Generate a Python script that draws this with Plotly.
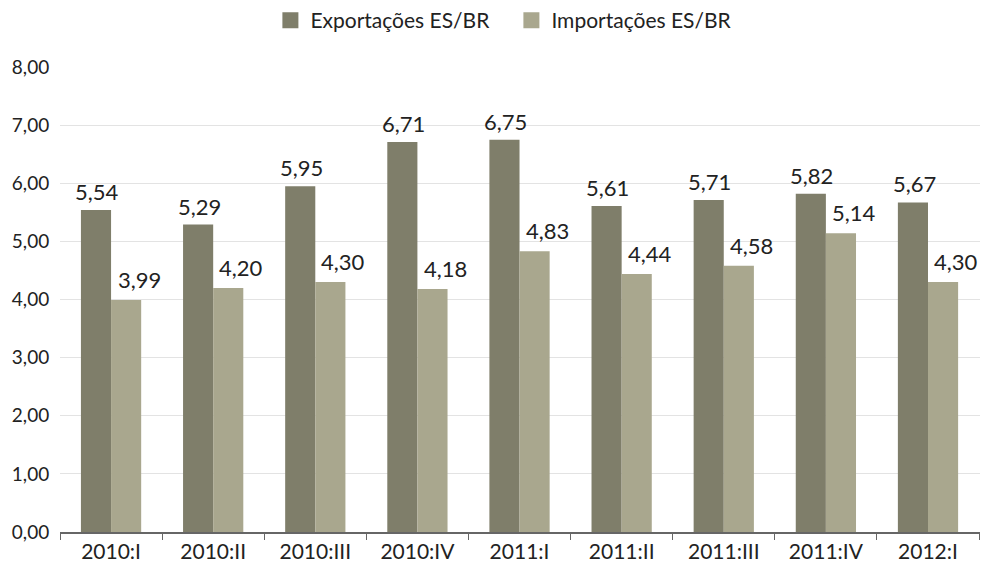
import plotly.graph_objects as go

categories = ["2010:I", "2010:II", "2010:III", "2010:IV", "2011:I", "2011:II", "2011:III", "2011:IV", "2012:I"]
exportacoes = [5.54, 5.29, 5.95, 6.71, 6.75, 5.61, 5.71, 5.82, 5.67]
importacoes = [3.99, 4.20, 4.30, 4.18, 4.83, 4.44, 4.58, 5.14, 4.30]
y_ticks = [0, 1, 2, 3, 4, 5, 6, 7, 8]
y_tick_labels = ["0,00", "1,00", "2,00", "3,00", "4,00", "5,00", "6,00", "7,00", "8,00"]
series_names = ["Exportações ES/BR", "Importações ES/BR"]
series_colors = ["#7f7e6a", "#a9a78e"]

def fmt(v):
    return f"{v:.2f}".replace(".", ",")

font_family = "Lato, Open Sans, sans-serif"
text_color = "#222222"

fig = go.Figure()
for name, vals, col in zip(series_names, [exportacoes, importacoes], series_colors):
    fig.add_trace(go.Bar(
        name=name, x=categories, y=vals, showlegend=False, legendgroup=name,
        marker=dict(color=col, line=dict(width=0)),
    ))
# legend entries with larger square swatches
for name, col in zip(series_names, series_colors):
    fig.add_trace(go.Scatter(
        name=name, x=[None], y=[None], mode="markers", legendgroup=name,
        marker=dict(symbol="square", size=16, color=col), showlegend=True,
    ))

annotations = []
for c, v in zip(categories, exportacoes):
    annotations.append(dict(x=c, y=v, xref="x", yref="y", text=fmt(v), showarrow=False,
                            xanchor="center", yanchor="bottom", xshift=-14, yshift=3,
                            font=dict(size=22, color=text_color)))
for c, v in zip(categories, importacoes):
    annotations.append(dict(x=c, y=v, xref="x", yref="y", text=fmt(v), showarrow=False,
                            xanchor="center", yanchor="bottom", xshift=28, yshift=5,
                            font=dict(size=22, color=text_color)))

fig.update_layout(
    width=993, height=563,
    margin=dict(l=60, r=13, t=67, b=31, autoexpand=False),
    paper_bgcolor="white", plot_bgcolor="white",
    barmode="group", bargap=0.41, bargroupgap=0,
    font=dict(family=font_family, size=19, color=text_color),
    legend=dict(orientation="h", x=0.515, xanchor="center", xref="container",
                y=1.0, yanchor="top", yref="container", entrywidth=196,
                font=dict(size=21), traceorder="normal", itemsizing="trace"),
    annotations=annotations,
)
fig.update_xaxes(
    showline=True, linecolor="#666666", linewidth=2,
    ticks="outside", tickson="boundaries", ticklen=6, tickcolor="#666666",
    tickfont=dict(size=21), showgrid=False, automargin=False,
)
fig.update_yaxes(
    range=[0, 8], tickvals=y_ticks, ticktext=y_tick_labels,
    showgrid=True, gridcolor="#e3e3e3", gridwidth=1,
    showline=False, zeroline=False, tickfont=dict(size=19),
    ticks="outside", ticklen=6, tickcolor="white", automargin=False,
)

fig.write_html("out.html", config={"displayModeBar": False},
               post_script="document.body.style.margin='0';document.body.style.padding='0';")
